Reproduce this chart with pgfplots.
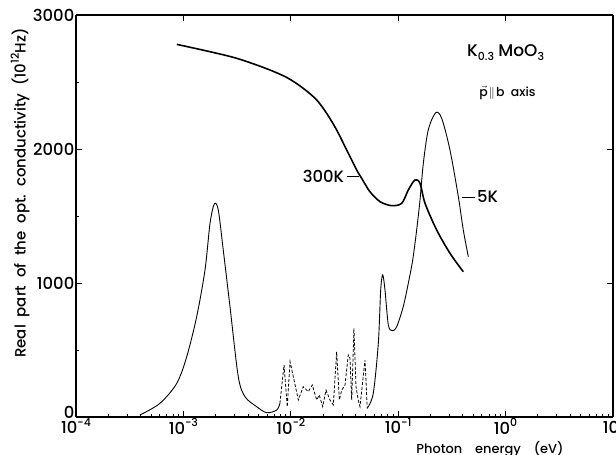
\documentclass[border=0pt]{standalone}
\usepackage{fontspec}
\setmainfont{Poppins}[UprightFont=* Medium]
\usepackage{pgfplots}
\pgfplotsset{compat=1.18}

% Real part of the optical conductivity of K0.3MoO3, E parallel to b
\pgfplotstableread{
E        s
8.67e-4  2781
1.77e-3  2726
3.13e-3  2677
5.75e-3  2604
9.16e-3  2534
0.01306  2453
0.01742  2366
0.02158  2266
0.02673  2142
0.03311  1993
0.04111  1843
0.04571  1781
0.05458  1681
0.06776  1607
0.08690  1577
0.1079   1595
0.1242   1694
0.1432   1769
0.1596   1744
0.1778   1595
0.2280   1396
0.3034   1222
0.4036   1084
}\roomT

% 5 K: far-infrared mode (solid)
\pgfplotstableread{
E        s
3.94e-4  15
6.05e-4  102
8.67e-4  251
1.074e-3 450
1.330e-3 749
1.589e-3 1097
1.77e-3  1445
1.941e-3 1590
2.113e-3 1545
2.351e-3 1246
2.716e-3 823
3.243e-3 301
3.75e-3  151
4.81e-3  77
5.97e-3  32
7.40e-3  52
7.92e-3  102
}\lowA

% 5 K: phonon region (dashed)
\pgfplotstableread{
E        s
7.92e-3  102
8.65e-3  388
9.27e-3  77
9.84e-3  413
0.01072  276
0.01175  127
0.01306  226
0.01455  189
0.01585  239
0.01742  127
0.01840  164
0.01982  77
0.02128  201
0.02317  127
0.02489  90
0.02673  487
0.02831  127
0.02979  201
0.03199  239
0.03428  463
0.03556  440
0.03690  127
0.03873  662
0.04046  226
0.04246  127
0.04406  77
0.04909  425
0.05152  65
}\lowB

% 5 K: mid-infrared (solid)
\pgfplotstableread{
E        s
0.05152  65
0.05861  177
0.06531  550
0.06871  948
0.07178  1060
0.07534  948
0.08091  687
0.08810  644
0.09683  674
0.1114   823
0.1242   998
0.1365   1172
0.1486   1396
0.1596   1619
0.1714   1893
0.1905   2142
0.2234   2271
0.2541   2229
0.3034   1993
0.3631   1644
0.4036   1396
0.4498   1196
}\lowC

\newcommand{\tp}[1]{10\raisebox{0.8ex}{\fontsize{11}{11}\selectfont #1}}

\begin{document}
\begin{tikzpicture}
\begin{axis}[
  scale only axis, width=537bp, height=402bp,
  xmode=log, xmin=1e-4, xmax=10, ymin=0, ymax=3000,
  tick align=inside,
  major tick length=6bp, minor tick length=3.5bp,
  every tick/.append style={black, line width=0.9pt},
  axis line style={line width=1.4pt},
  xtick={1e-4,1e-3,1e-2,1e-1,1,10},
  ytick={0,1000,2000,3000},
  axis x line*=bottom, axis y line*=left,
  minor ytick={500,1500,2500},
  xticklabels={\tp{-4},\tp{-3},\tp{-2},\tp{-1},\tp{0},\tp{1}},
  yticklabels={\raisebox{10bp}{0},1000,2000,3000},
  ticklabel style={font=\fontsize{16.5}{16.5}\selectfont},
  yticklabel style={inner sep=1.5bp},
  xticklabel style={inner sep=1.5bp},
  xlabel={Photon\quad energy\quad (eV)},
  xlabel style={at={(axis description cs:0.771,0)}, anchor=base, yshift=-36bp,
    font=\fontsize{13}{13}\selectfont},
  ylabel={Real\ \ part\ \ of\ \ the\ \ opt.\ \ conductivity\ \ (10\raisebox{0.8ex}{\fontsize{11}{11}\selectfont 12}Hz)},
  ylabel style={at={(axis description cs:-0.104,0.557)}, anchor=center,
    font=\fontsize{15}{15}\selectfont},
  clip=false,
]
\addplot[black, line width=1.6pt, smooth, tension=0.5] table {\roomT};
\addplot[black, line width=0.9pt, smooth, tension=0.5] table {\lowA};
\addplot[black, line width=0.8pt, dash pattern=on 3pt off 1.8pt] table {\lowB};
\addplot[black, line width=0.9pt, smooth, tension=0.5] table {\lowC};

\node[anchor=east, inner sep=1bp, font=\fontsize{16.5}{16.5}\selectfont] at (axis cs:0.0322,1799) {300K};
\draw[line width=0.7pt] (axis cs:0.0333,1799) -- (axis cs:0.0435,1799);
\node[anchor=west, inner sep=1bp, font=\fontsize{16.5}{16.5}\selectfont] at (axis cs:0.53,1642) {5K};
\draw[line width=0.7pt] (axis cs:0.392,1642) -- (axis cs:0.52,1642);

\node[anchor=base, font=\fontsize{17}{17}\selectfont] at (axis cs:1.0,2690)
  {K\raisebox{-0.45ex}{\fontsize{11}{11}\selectfont 0.3} MoO\raisebox{-0.45ex}{\fontsize{11}{11}\selectfont 3}};
\node[anchor=base, font=\fontsize{12.5}{12.5}\selectfont] at (axis cs:1.04,2390)
  {$\vec{\mbox{p}}$\kern1.2pt$\parallel$\kern1.2pt b\ \ axis};
\end{axis}

% top and right frame lines carry only the major ticks
\begin{axis}[
  scale only axis, width=537bp, height=402bp,
  xmode=log, xmin=1e-4, xmax=10, ymin=0, ymax=3000,
  tick align=inside,
  major tick length=6bp,
  every tick/.append style={black, line width=0.9pt},
  axis line style={line width=1.4pt},
  xtick={1e-4,1e-3,1e-2,1e-1,1,10},
  ytick={1000,2000},
  axis x line*=top, axis y line*=right,
  xticklabels={}, yticklabels={},
  minor x tick style={draw=none},
]
\end{axis}

\pgfresetboundingbox
\path[use as bounding box] ([shift={(-76bp,-38bp)}]current axis.south west)
  rectangle ([shift={(540bp,417bp)}]current axis.south west);
\end{tikzpicture}
\end{document}
